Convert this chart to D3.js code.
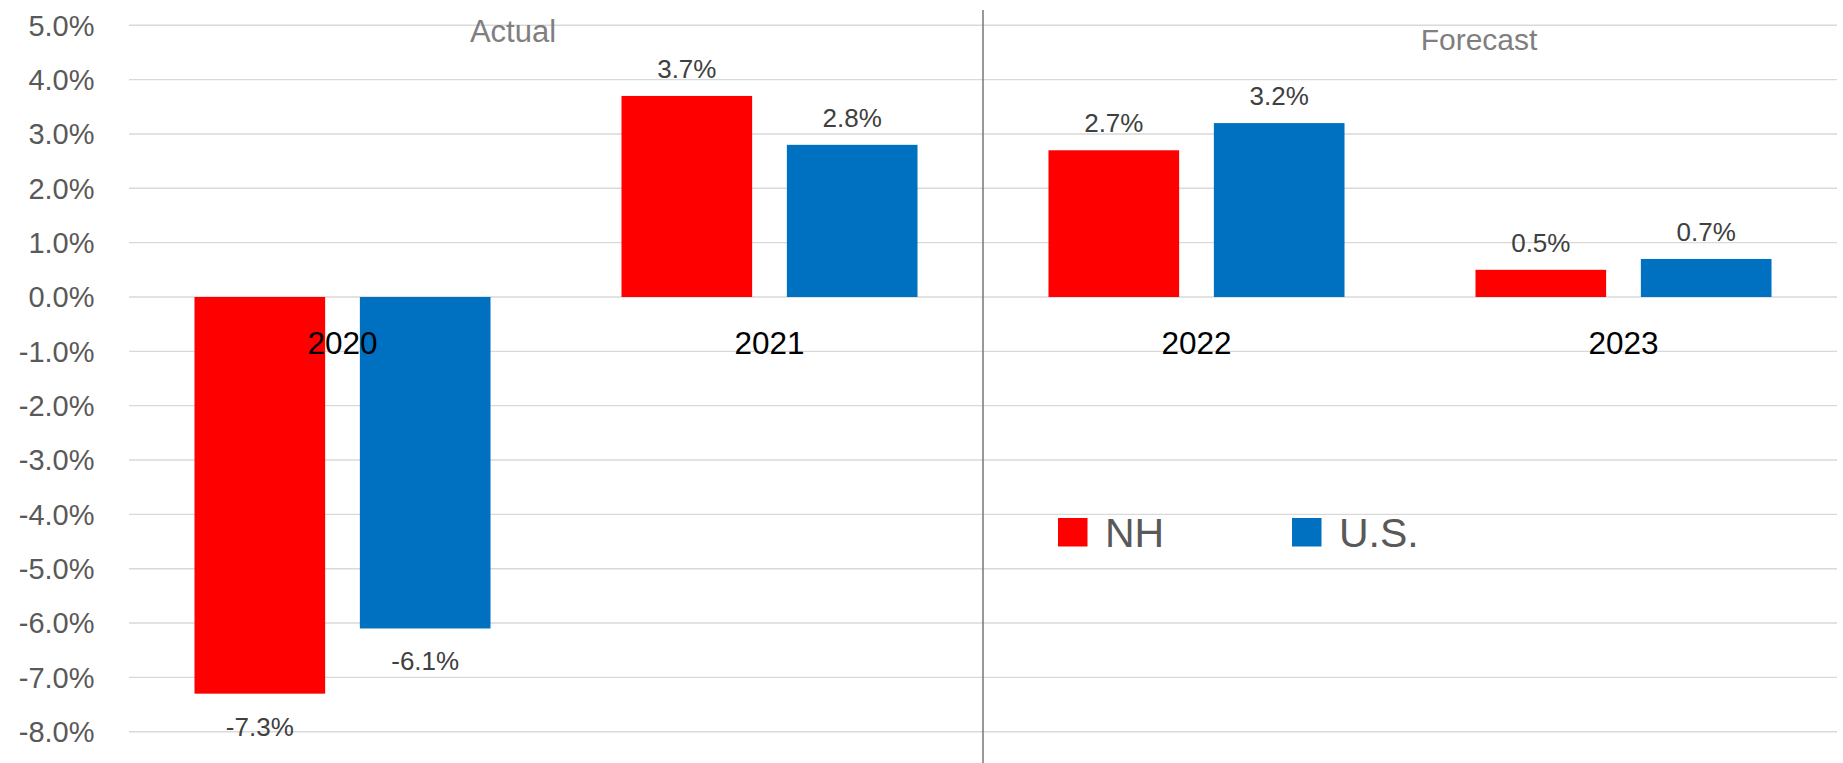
<!DOCTYPE html>
<html>
<head>
<meta charset="utf-8">
<script src="https://cdn.jsdelivr.net/npm/d3@7"></script>
<style>
  body { margin: 0; background: #fff; }
  svg { display: block; font-family: "Liberation Sans", Arial, sans-serif; }
</style>
</head>
<body>
<div id="chart"></div>
<script>
// data
const years = ["2020", "2021", "2022", "2023"];
const series = ["NH", "U.S."];
const nhValues = [-7.3, 3.7, 2.7, 0.5];
const usValues = [-6.1, 2.8, 3.2, 0.7];
const yTicks = [5, 4, 3, 2, 1, 0, -1, -2, -3, -4, -5, -6, -7, -8];
const colors = { "NH": "#ff0000", "U.S.": "#0070c0" };

const width = 1843, height = 763;
const margin = { top: 25.3, right: 6, bottom: 31.3, left: 129 };

const svg = d3.select("#chart")
  .append("svg")
  .attr("width", width)
  .attr("height", height);

const x0 = d3.scaleBand()
  .domain(years)
  .range([margin.left, width - margin.right])
  .paddingInner(0)
  .paddingOuter(0);

const x1 = d3.scaleBand()
  .domain(series)
  .range([0, x0.bandwidth()])
  .paddingInner(0.21)
  .paddingOuter(0.396);

const y = d3.scaleLinear()
  .domain([5, -8])
  .range([margin.top, height - margin.bottom]);

// gridlines
svg.append("g")
  .selectAll("line")
  .data(yTicks)
  .enter()
  .append("line")
  .attr("x1", margin.left)
  .attr("x2", width - margin.right)
  .attr("y1", d => y(d))
  .attr("y2", d => y(d))
  .attr("stroke", "#d9d9d9")
  .attr("stroke-width", 1.4);

// y tick labels
svg.append("g")
  .selectAll("text")
  .data(yTicks)
  .enter()
  .append("text")
  .attr("x", 94.5)
  .attr("y", d => y(d))
  .attr("dy", "0.36em")
  .attr("text-anchor", "end")
  .style("font-size", "29px")
  .style("fill", "#595959")
  .text(d => d.toFixed(1) + "%");

// bars
const rows = years.map((yr, i) => ({
  year: yr,
  values: [
    { key: "NH", value: nhValues[i] },
    { key: "U.S.", value: usValues[i] }
  ]
}));

const groups = svg.append("g")
  .selectAll("g")
  .data(rows)
  .enter()
  .append("g")
  .attr("transform", d => `translate(${x0(d.year)},0)`);

groups.selectAll("rect")
  .data(d => d.values)
  .enter()
  .append("rect")
  .attr("x", d => x1(d.key))
  .attr("width", x1.bandwidth())
  .attr("y", d => y(Math.max(0, d.value)))
  .attr("height", d => Math.abs(y(d.value) - y(0)))
  .attr("fill", d => colors[d.key]);

// data labels
groups.selectAll("text.val")
  .data(d => d.values)
  .enter()
  .append("text")
  .attr("class", "val")
  .attr("x", d => x1(d.key) + x1.bandwidth() / 2)
  .attr("y", d => d.value >= 0 ? y(d.value) - 18 : y(d.value) + 42)
  .attr("text-anchor", "middle")
  .style("font-size", "26px")
  .style("fill", "#404040")
  .text(d => d.value.toFixed(1) + "%");

// category labels
svg.append("g")
  .selectAll("text")
  .data(years)
  .enter()
  .append("text")
  .attr("x", d => x0(d) + x0.bandwidth() / 2)
  .attr("y", y(0) + 57)
  .attr("text-anchor", "middle")
  .style("font-size", "31.5px")
  .style("fill", "#000")
  .text(d => d);

// divider between actual and forecast
const divX = x0("2022");
svg.append("line")
  .attr("x1", divX)
  .attr("x2", divX)
  .attr("y1", 10)
  .attr("y2", height)
  .attr("stroke", "#7f7f7f")
  .attr("stroke-width", 1.6);

svg.append("text")
  .attr("x", 513)
  .attr("y", 41.5)
  .attr("text-anchor", "middle")
  .style("font-size", "31px")
  .style("fill", "#7f7f7f")
  .text("Actual");

svg.append("text")
  .attr("x", 1479)
  .attr("y", 50)
  .attr("text-anchor", "middle")
  .style("font-size", "30px")
  .style("fill", "#7f7f7f")
  .text("Forecast");

// legend
const legend = svg.append("g")
  .selectAll("g")
  .data(series)
  .enter()
  .append("g")
  .attr("transform", (d, i) => `translate(${i === 0 ? 1058 : 1292},0)`);

legend.append("rect")
  .attr("x", 0)
  .attr("y", 518)
  .attr("width", 29.5)
  .attr("height", 28.5)
  .attr("fill", d => colors[d]);

legend.append("text")
  .attr("x", 47)
  .attr("y", 546.7)
  .style("font-size", "41px")
  .style("fill", "#595959")
  .text(d => d);
</script>
</body>
</html>
